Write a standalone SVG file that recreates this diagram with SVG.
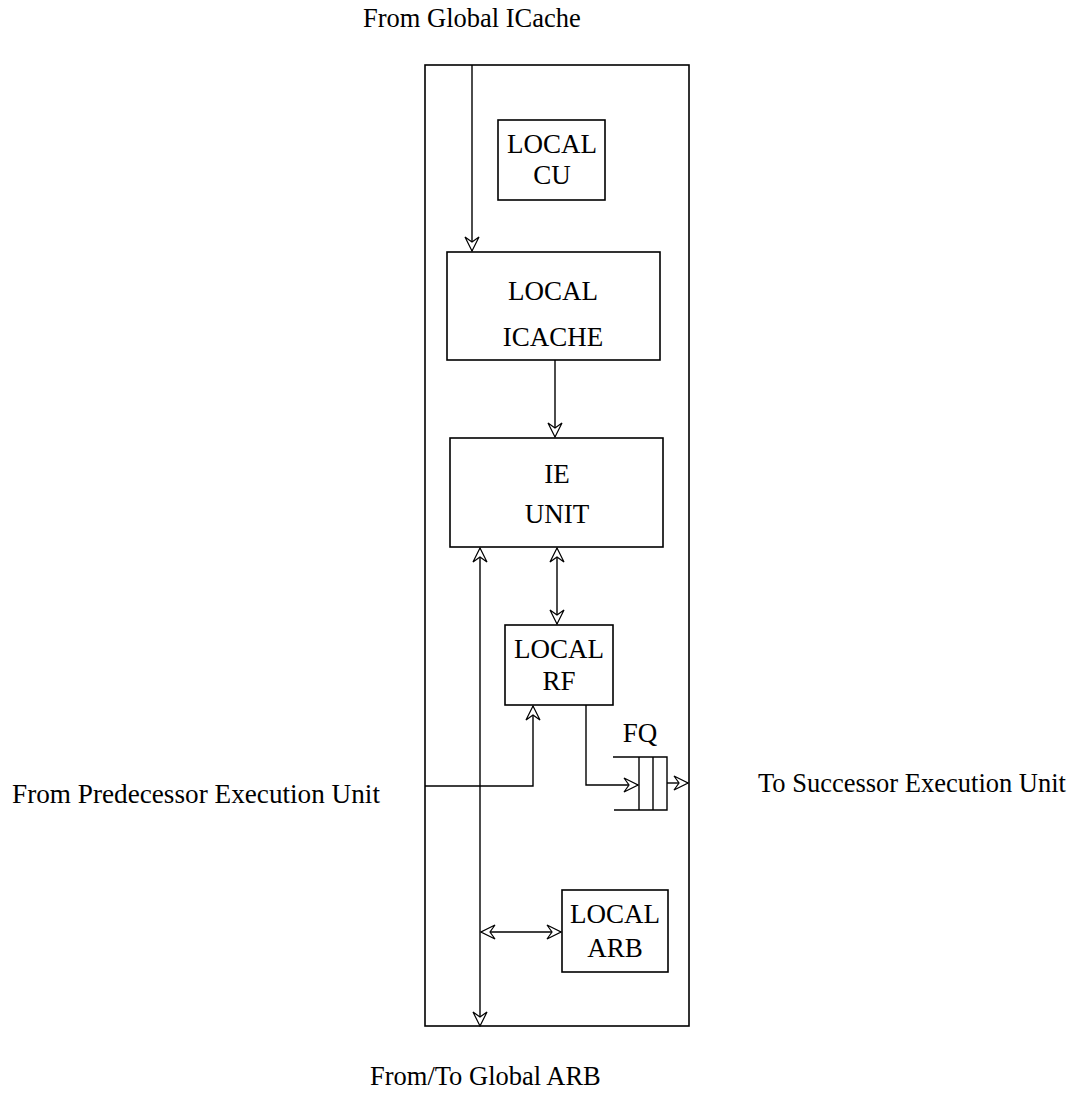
<svg xmlns="http://www.w3.org/2000/svg" width="1081" height="1093" viewBox="0 0 1081 1093">
<style>
.box{fill:none;stroke:#000;stroke-width:1.6}
.ln{fill:none;stroke:#000;stroke-width:1.4}
text{font-family:"Liberation Serif","Times New Roman",serif;font-size:27px;fill:#000}
.lb{font-size:26.5px}
.c{text-anchor:middle}
</style>
<defs>
<marker id="ah" viewBox="0 0 16 16" refX="15" refY="8" markerWidth="16" markerHeight="16" markerUnits="userSpaceOnUse" orient="auto-start-reverse">
<path d="M1,1 L15,8 L1,15 L6,8 Z" fill="#fff" stroke="#000" stroke-width="1.2"/>
</marker>
</defs>
<rect fill="#fff" width="1081" height="1093"/>
<g id="outer"><rect class="box" x="425" y="65" width="264" height="961"/></g>
<g id="cu"><rect class="box" x="498" y="120" width="107" height="80"/><text class="c" x="552" y="153">LOCAL</text><text class="c" x="552" y="184">CU</text></g>
<g id="icache"><rect class="box" x="447" y="252" width="213" height="108"/><text class="c" x="553" y="300">LOCAL</text><text class="c" x="553" y="346">ICACHE</text></g>
<g id="ie"><rect class="box" x="450" y="438" width="213" height="109"/><text class="c" x="557" y="483">IE</text><text class="c" x="557" y="523">UNIT</text></g>
<g id="rf"><rect class="box" x="505" y="625" width="108" height="80"/><text class="c" x="559" y="658">LOCAL</text><text class="c" x="559" y="690">RF</text></g>
<g id="arb"><rect class="box" x="562" y="890" width="106" height="82"/><text class="c" x="615" y="923">LOCAL</text><text class="c" x="615" y="957">ARB</text></g>
<g id="fq"><path class="ln" d="M613,757 H667 V810 H614 M639,757 V810 M653,757 V810"/><text class="c" x="640" y="742">FQ</text></g>
<g id="connectors">
<path class="ln" d="M472,65 V251" marker-end="url(#ah)"/>
<path class="ln" d="M555,360 V437" marker-end="url(#ah)"/>
<path class="ln" d="M557,548 V624" marker-start="url(#ah)" marker-end="url(#ah)"/>
<path class="ln" d="M480,548 V1026" marker-start="url(#ah)" marker-end="url(#ah)"/>
<path class="ln" d="M481,932 H561" marker-start="url(#ah)" marker-end="url(#ah)"/>
<path class="ln" d="M425,786 H533 V706" marker-end="url(#ah)"/>
<path class="ln" d="M586,705 V785 H638" marker-end="url(#ah)"/>
<path class="ln" d="M667,783 H688" marker-end="url(#ah)"/>
</g>
<g id="labels">
<text class="lb" x="363" y="27">From Global ICache</text>
<text class="lb" x="12" y="803" textLength="368" lengthAdjust="spacingAndGlyphs">From Predecessor Execution Unit</text>
<text class="lb" x="758" y="792">To Successor Execution Unit</text>
<text class="lb" x="370" y="1085">From/To Global ARB</text>
</g>
</svg>
